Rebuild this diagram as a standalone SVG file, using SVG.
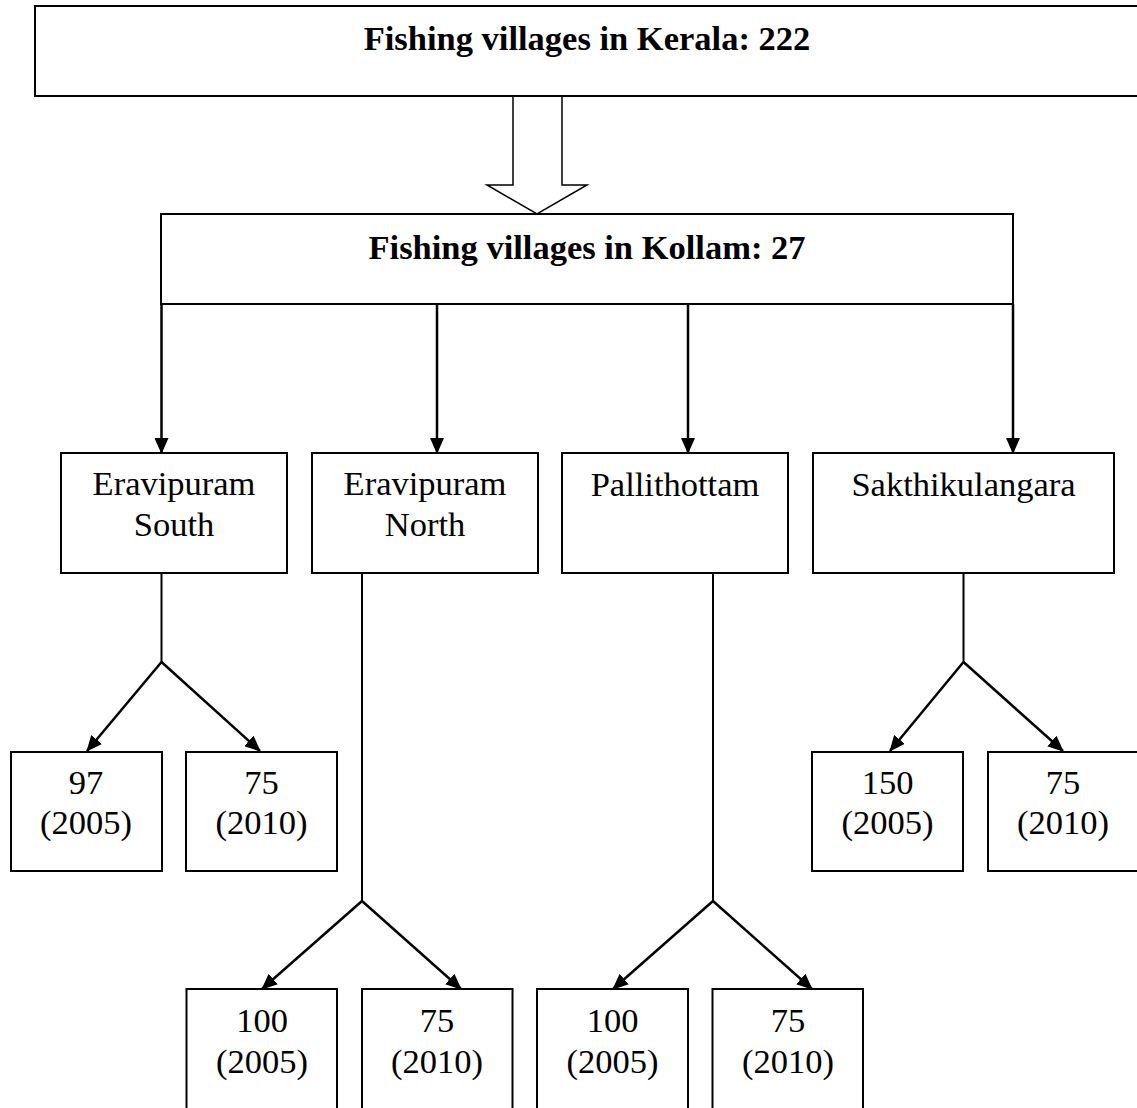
<svg xmlns="http://www.w3.org/2000/svg" width="1137" height="1108" viewBox="0 0 1137 1108">
  <style>
    .box { fill: #ffffff; stroke: #000000; stroke-width: 2; }
    .title { font-family: "Liberation Serif", "Times New Roman", serif; font-size: 34.5px; font-weight: bold; text-anchor: middle; fill: #000000; }
    .lbl { font-family: "Liberation Serif", "Times New Roman", serif; font-size: 34.5px; text-anchor: middle; fill: #000000; }
    .wire { fill: none; stroke: #000000; stroke-width: 2; }
    .arrow { fill: none; stroke: #000000; stroke-width: 2.5; marker-end: url(#head); }
  </style>
  <defs>
    <marker id="head" markerUnits="userSpaceOnUse" markerWidth="16" markerHeight="14" viewBox="0 0 16 14" refX="15" refY="7" orient="auto">
      <path d="M0,0 L16,7 L0,14 z" fill="#000000"/>
    </marker>
  </defs>

  <rect width="1137" height="1108" fill="#ffffff"/>

  <!-- connectors -->
  <g id="connectors">
    <!-- block arrow from state to district -->
    <polygon points="513,96 513,185 487,185 537,214 587,185 562,185 562,96" fill="#ffffff" stroke="#000000" stroke-width="1.5"/>
    <!-- district to villages -->
    <line class="arrow" x1="161.5" y1="304" x2="161.5" y2="453"/>
    <line class="arrow" x1="437" y1="304" x2="437" y2="453"/>
    <line class="arrow" x1="688" y1="304" x2="688" y2="453"/>
    <line class="arrow" x1="1013" y1="304" x2="1013" y2="453"/>
    <!-- Eravipuram South split -->
    <line class="wire" x1="161.5" y1="573" x2="161.5" y2="662"/>
    <line class="arrow" x1="161.5" y1="662" x2="87" y2="751"/>
    <line class="arrow" x1="161.5" y1="662" x2="260" y2="751"/>
    <!-- Eravipuram North split -->
    <line class="wire" x1="362" y1="573" x2="362" y2="901"/>
    <line class="arrow" x1="362" y1="901" x2="262" y2="989"/>
    <line class="arrow" x1="362" y1="901" x2="461" y2="989"/>
    <!-- Pallithottam split -->
    <line class="wire" x1="713" y1="573" x2="713" y2="901"/>
    <line class="arrow" x1="713" y1="901" x2="613" y2="989"/>
    <line class="arrow" x1="713" y1="901" x2="812" y2="989"/>
    <!-- Sakthikulangara split -->
    <line class="wire" x1="963.5" y1="573" x2="963.5" y2="662"/>
    <line class="arrow" x1="963.5" y1="662" x2="890" y2="751"/>
    <line class="arrow" x1="963.5" y1="662" x2="1063" y2="751"/>
  </g>

  <g id="kerala">
    <rect class="box" x="35" y="6" width="1110" height="90"/>
    <text class="title" x="587" y="50">Fishing villages in Kerala: 222</text>
  </g>

  <g id="kollam">
    <rect class="box" x="161" y="214" width="852" height="90"/>
    <text class="title" x="587" y="259">Fishing villages in Kollam: 27</text>
  </g>

  <g id="eravipuram-south">
    <rect class="box" x="61" y="453" width="226" height="120"/>
    <text class="lbl" x="174" y="495">Eravipuram</text>
    <text class="lbl" x="174" y="536">South</text>
  </g>

  <g id="eravipuram-north">
    <rect class="box" x="312" y="453" width="226" height="120"/>
    <text class="lbl" x="425" y="495">Eravipuram</text>
    <text class="lbl" x="425" y="536">North</text>
  </g>

  <g id="pallithottam">
    <rect class="box" x="562" y="453" width="226" height="120"/>
    <text class="lbl" x="675" y="496">Pallithottam</text>
  </g>

  <g id="sakthikulangara">
    <rect class="box" x="813" y="453" width="301" height="120"/>
    <text class="lbl" x="963.5" y="496">Sakthikulangara</text>
  </g>

  <g id="es-2005">
    <rect class="box" x="11" y="752" width="151" height="119"/>
    <text class="lbl" x="86" y="794">97</text>
    <text class="lbl" x="86" y="834">(2005)</text>
  </g>

  <g id="es-2010">
    <rect class="box" x="186" y="752" width="151" height="119"/>
    <text class="lbl" x="261.5" y="794">75</text>
    <text class="lbl" x="261.5" y="834">(2010)</text>
  </g>

  <g id="sk-2005">
    <rect class="box" x="812" y="752" width="151" height="119"/>
    <text class="lbl" x="887.5" y="794">150</text>
    <text class="lbl" x="887.5" y="834">(2005)</text>
  </g>

  <g id="sk-2010">
    <rect class="box" x="988" y="752" width="152" height="119"/>
    <text class="lbl" x="1063" y="794">75</text>
    <text class="lbl" x="1063" y="834">(2010)</text>
  </g>

  <g id="en-2005">
    <rect class="box" x="186.5" y="989" width="150.5" height="130"/>
    <text class="lbl" x="262" y="1032">100</text>
    <text class="lbl" x="262" y="1073">(2005)</text>
  </g>

  <g id="en-2010">
    <rect class="box" x="362" y="989" width="150.5" height="130"/>
    <text class="lbl" x="437" y="1032">75</text>
    <text class="lbl" x="437" y="1073">(2010)</text>
  </g>

  <g id="pt-2005">
    <rect class="box" x="537" y="989" width="151" height="130"/>
    <text class="lbl" x="612.5" y="1032">100</text>
    <text class="lbl" x="612.5" y="1073">(2005)</text>
  </g>

  <g id="pt-2010">
    <rect class="box" x="712.5" y="989" width="150.5" height="130"/>
    <text class="lbl" x="788" y="1032">75</text>
    <text class="lbl" x="788" y="1073">(2010)</text>
  </g>
</svg>
